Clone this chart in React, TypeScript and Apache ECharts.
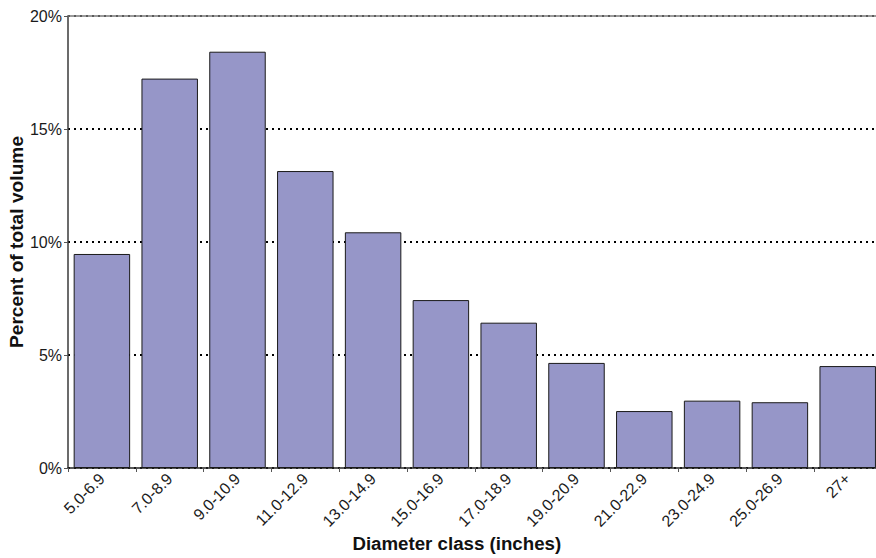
import React, { useEffect, useRef } from "react";
import * as echarts from "echarts";

const categories = [
  "5.0-6.9", "7.0-8.9", "9.0-10.9", "11.0-12.9", "13.0-14.9", "15.0-16.9",
  "17.0-18.9", "19.0-20.9", "21.0-22.9", "23.0-24.9", "25.0-26.9", "27+",
];
const percentOfVolume = [9.47, 17.23, 18.42, 13.14, 10.43, 7.43, 6.43, 4.65, 2.52, 2.98, 2.91, 4.51];
const yTicks = { min: 0, max: 20, interval: 5 };
const xTitle = "Diameter class (inches)";
const yTitle = "Percent of total volume";

export default function App() {
  const ref = useRef<HTMLDivElement>(null);
  useEffect(() => {
    if (!ref.current) return;
    const chart = echarts.init(ref.current, undefined, { renderer: "svg" });
    const font = "'Liberation Sans', Arial, Helvetica, sans-serif";
    chart.setOption({
      animation: false,
      backgroundColor: "#ffffff",
      textStyle: { fontFamily: font },
      grid: {
        left: 68, top: 16, width: 813.6, height: 452,
        containLabel: false, outerBoundsMode: "none",
      },
      xAxis: [
        {
          type: "category",
          data: categories,
          position: "bottom",
          name: xTitle,
          nameLocation: "middle",
          nameGap: 66,
          nameMoveOverlap: false,
          nameTextStyle: {
            fontFamily: font, fontSize: 18.7, fontWeight: "bold", color: "#111",
            padding: [0, 36, 0, 0],
          },
          axisLine: { show: true, lineStyle: { color: "#222", width: 1.5 } },
          axisTick: { show: true, alignWithLabel: false, length: 4, lineStyle: { color: "#555", width: 1 } },
          axisLabel: { rotate: 45, fontSize: 16, color: "#1a1a1a", fontFamily: font, margin: 8, interval: 0 },
          splitLine: { show: false },
        },
        {
          type: "category",
          data: categories,
          position: "top",
          axisLine: { show: true, lineStyle: { color: "#7a7a7a", width: 1.5 } },
          axisTick: { show: false },
          axisLabel: { show: false },
          splitLine: { show: false },
        },
      ],
      yAxis: {
        type: "value",
        min: yTicks.min,
        max: yTicks.max,
        interval: yTicks.interval,
        name: yTitle,
        nameLocation: "middle",
        nameGap: 42,
        nameMoveOverlap: false,
        nameTextStyle: { fontFamily: font, fontSize: 19.2, fontWeight: "bold", color: "#111" },
        axisLine: { show: true, lineStyle: { color: "#3a3a3a", width: 1.5 } },
        axisTick: { show: true, length: 4, lineStyle: { color: "#555", width: 1 } },
        axisLabel: { formatter: "{value}%", fontSize: 16, color: "#1a1a1a", fontFamily: font, margin: 6 },
        splitLine: { show: true, lineStyle: { color: "#000", width: 2, type: [2, 4] } },
      },
      series: [
        {
          type: "bar",
          data: percentOfVolume,
          xAxisIndex: 0,
          barCategoryGap: "16.7%",
          itemStyle: { color: "#9696c8", borderColor: "#1a1a1a", borderWidth: 1 },
        },
      ],
    });
    return () => chart.dispose();
  }, []);
  return <div ref={ref} style={{ width: 876, height: 558, position: "absolute", left: 0, top: 0 }} />;
}
